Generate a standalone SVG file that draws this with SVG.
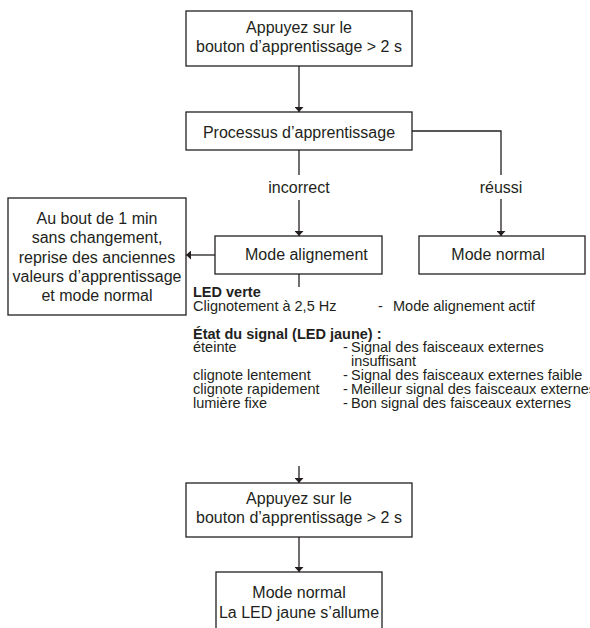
<svg xmlns="http://www.w3.org/2000/svg" width="590" height="628" viewBox="0 0 590 628">
<style>
.box{fill:#fff;stroke:#231f20;stroke-width:1.3}
.ln{fill:none;stroke:#231f20;stroke-width:1.3}
.t{font-family:"Liberation Sans",Arial,Helvetica,sans-serif;font-size:16px;fill:#231f20}
.c{text-anchor:middle}
.s{font-family:"Liberation Sans",Arial,Helvetica,sans-serif;font-size:14.5px;fill:#231f20}
.b{font-weight:bold}
</style>
<defs>
<marker id="ah" viewBox="0 0 10 10" refX="10" refY="5" markerWidth="5" markerHeight="9" markerUnits="userSpaceOnUse" orient="auto" preserveAspectRatio="none">
<path d="M0,0 L10,5 L0,10 Z" fill="#231f20"/>
</marker>
</defs>
<rect width="590" height="628" fill="#fff"/>
<g id="connectors">
<line class="ln" x1="299" y1="66" x2="299" y2="112" marker-end="url(#ah)"/>
<line class="ln" x1="299" y1="150" x2="299" y2="175"/>
<line class="ln" x1="299" y1="200" x2="299" y2="236" marker-end="url(#ah)"/>
<polyline class="ln" points="412,131 501,131 501,175"/>
<line class="ln" x1="501" y1="199" x2="501" y2="236" marker-end="url(#ah)"/>
<line class="ln" x1="215" y1="255" x2="186" y2="255" marker-end="url(#ah)"/>
<line class="ln" x1="299" y1="274" x2="299" y2="287"/>
<line class="ln" x1="299" y1="466" x2="299" y2="483" marker-end="url(#ah)"/>
<line class="ln" x1="299" y1="537" x2="299" y2="572" marker-end="url(#ah)"/>
<text class="t c" x="299" y="193">incorrect</text>
<text class="t c" x="501" y="193">réussi</text>
</g>
<g id="n1">
<rect class="box" x="186" y="11" width="226" height="55"/>
<text class="t c" x="299" y="33">Appuyez sur le</text>
<text class="t c" x="299" y="52">bouton d’apprentissage &gt; 2 s</text>
</g>
<g id="n2">
<rect class="box" x="186" y="112" width="226" height="38"/>
<text class="t c" x="299" y="138">Processus d’apprentissage</text>
</g>
<g id="n3">
<rect class="box" x="215" y="236" width="167" height="38"/>
<text class="t" x="245" y="260">Mode alignement</text>
</g>
<g id="n4">
<rect class="box" x="419" y="236" width="166" height="38"/>
<text class="t c" x="498" y="260">Mode normal</text>
</g>
<g id="n5">
<rect class="box" x="8" y="198" width="178" height="117"/>
<text class="t c" x="97" y="224">Au bout de 1 min</text>
<text class="t c" x="97" y="243">sans changement,</text>
<text class="t c" x="97" y="263">reprise des anciennes</text>
<text class="t c" x="97" y="282">valeurs d’apprentissage</text>
<text class="t c" x="97" y="301">et mode normal</text>
</g>
<g id="info">
<text class="s b" x="193" y="297">LED verte</text>
<text class="s" x="193" y="311">Clignotement à 2,5 Hz</text>
<text class="s" x="378" y="311">-</text>
<text class="s" x="393" y="311">Mode alignement actif</text>
<text class="s b" x="193" y="339">État du signal (LED jaune) :</text>
<text class="s" x="193" y="352">éteinte</text>
<text class="s" x="343" y="352">-</text>
<text class="s" x="351" y="352">Signal des faisceaux externes</text>
<text class="s" x="351" y="366">insuffisant</text>
<text class="s" x="193" y="380">clignote lentement</text>
<text class="s" x="343" y="380">-</text>
<text class="s" x="351" y="380">Signal des faisceaux externes faible</text>
<text class="s" x="193" y="394">clignote rapidement</text>
<text class="s" x="343" y="394">-</text>
<text class="s" x="351" y="394">Meilleur signal des faisceaux externes</text>
<text class="s" x="193" y="408">lumière fixe</text>
<text class="s" x="343" y="408">-</text>
<text class="s" x="351" y="408">Bon signal des faisceaux externes</text>
</g>
<g id="n6">
<rect class="box" x="186" y="483" width="226" height="54"/>
<text class="t c" x="299" y="504">Appuyez sur le</text>
<text class="t c" x="299" y="523">bouton d’apprentissage &gt; 2 s</text>
</g>
<g id="n7">
<rect class="box" x="216" y="572" width="166" height="64"/>
<text class="t c" x="299" y="598">Mode normal</text>
<text class="t c" x="299" y="618">La LED jaune s’allume</text>
</g>
</svg>
